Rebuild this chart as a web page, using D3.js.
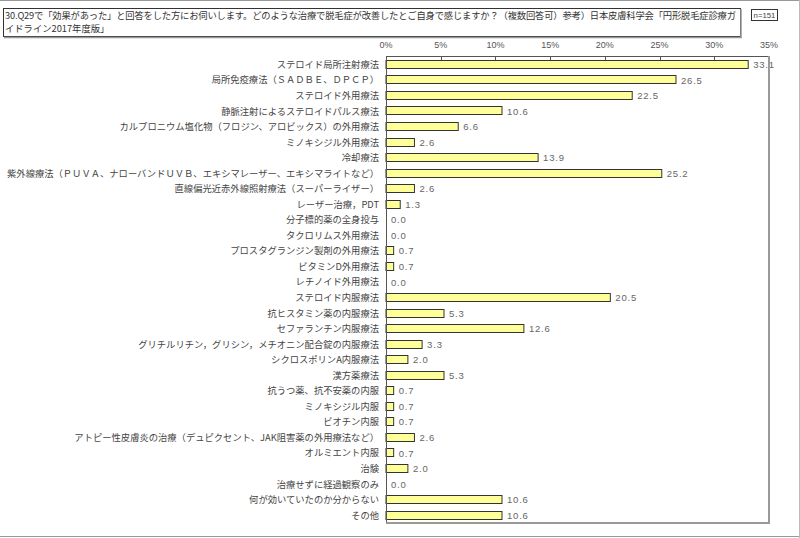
<!DOCTYPE html>
<html><head><meta charset="utf-8">
<script src="https://cdn.jsdelivr.net/npm/d3@7"></script>
<style>body{margin:0;background:#fff}svg{display:block}</style>
</head><body>
<script>
const titleLines = [
  "30.Q29で「効果があった」と回答をした方にお伺いします。どのような治療で脱毛症が改善したとご自身で感じますか？（複数回答可）参考）日本皮膚科学会「円形脱毛症診療ガ",
  "イドライン2017年度版」"
];
const nLabel = "n=151";
const categories = [
  "ステロイド局所注射療法",
  "局所免疫療法（ＳＡＤＢＥ、ＤＰＣＰ）",
  "ステロイド外用療法",
  "静脈注射によるステロイドパルス療法",
  "カルプロニウム塩化物（フロジン、アロビックス）の外用療法",
  "ミノキシジル外用療法",
  "冷却療法",
  "紫外線療法（ＰＵＶＡ、ナローバンドＵＶＢ、エキシマレーザー、エキシマライトなど）",
  "直線偏光近赤外線照射療法（スーパーライザー）",
  "レーザー治療，PDT",
  "分子標的薬の全身投与",
  "タクロリムス外用療法",
  "プロスタグランジン製剤の外用療法",
  "ビタミンD外用療法",
  "レチノイド外用療法",
  "ステロイド内服療法",
  "抗ヒスタミン薬の内服療法",
  "セファランチン内服療法",
  "グリチルリチン，グリシン，メチオニン配合錠の内服療法",
  "シクロスポリンA内服療法",
  "漢方薬療法",
  "抗うつ薬、抗不安薬の内服",
  "ミノキシジル内服",
  "ビオチン内服",
  "アトピー性皮膚炎の治療（デュピクセント、JAK阻害薬の外用療法など）",
  "オルミエント内服",
  "治験",
  "治療せずに経過観察のみ",
  "何が効いていたのか分からない",
  "その他"
];
const values = [33.1,26.5,22.5,10.6,6.6,2.6,13.9,25.2,2.6,1.3,0.0,0.0,0.7,0.7,0.0,20.5,5.3,12.6,3.3,2.0,5.3,0.7,0.7,0.7,2.6,0.7,2.0,0.0,10.6,10.6];
const tickValues = [0,5,10,15,20,25,30,35];

const W = 800, H = 538;
const svg = d3.select("body").append("svg").attr("width", W).attr("height", H);
const jp = "'Noto Sans CJK JP', sans-serif";

// outer border lines
svg.append("line").attr("x1",0).attr("x2",W).attr("y1",0.5).attr("y2",0.5).attr("stroke","#999");
svg.append("line").attr("x1",0).attr("x2",W).attr("y1",536.5).attr("y2",536.5).attr("stroke","#999");
svg.append("line").attr("x1",799.5).attr("x2",799.5).attr("y1",0).attr("y2",H).attr("stroke","#bbb");

// title box
svg.append("rect").attr("x",3.5).attr("y",8.5).attr("width",737).attr("height",28)
  .attr("fill","#fff").attr("stroke","#333").attr("stroke-width",1);
svg.append("line").attr("x1",741).attr("x2",741).attr("y1",9).attr("y2",38).attr("stroke","#999").attr("stroke-width",1.5);
svg.append("line").attr("x1",4).attr("x2",742).attr("y1",37.5).attr("y2",37.5).attr("stroke","#999").attr("stroke-width",1.5);
svg.selectAll("text.title").data(titleLines).join("text").attr("class","title")
  .attr("x",5).attr("y",(d,i)=>18.5+i*13.5)
  .attr("font-family",jp).attr("font-size",9.3).attr("fill","#333")
  .each(function(d,i){ if(i===0) d3.select(this).attr("textLength",731).attr("lengthAdjust","spacing"); })
  .text(d=>d);

// n box
svg.append("rect").attr("x",751.5).attr("y",9.5).attr("width",26).attr("height",11)
  .attr("fill","#fff").attr("stroke","#333");
svg.append("text").attr("x",764.5).attr("y",18).attr("text-anchor","middle")
  .attr("font-family","'Liberation Sans', sans-serif").attr("font-size",7.8).attr("fill","#444").text(nLabel);

// scales
const x = d3.scaleLinear().domain([0,35]).range([386,769]);
const y = d3.scaleBand().domain(categories).range([56.7,523]).paddingInner(0.4).paddingOuter(0.2);

// tick labels
svg.selectAll("text.tick").data(tickValues).join("text").attr("class","tick")
  .attr("x",d=>x(d)).attr("y",48).attr("text-anchor","middle")
  .attr("font-family","'Liberation Sans', sans-serif").attr("font-size",9).attr("fill","#555")
  .text(d=>d+"%");

// bars
svg.selectAll("rect.bar").data(values.map((v,i)=>({v,c:categories[i]}))).join("rect").attr("class","bar")
  .filter(d=>d.v>0)
  .attr("x",x(0)).attr("y",d=>Math.round(y(d.c))+0.5)
  .attr("width",d=>x(d.v)-x(0)).attr("height",8)
  .attr("fill","#ffff99").attr("stroke","#333").attr("stroke-width",1);

// value labels
svg.selectAll("text.val").data(values.map((v,i)=>({v,c:categories[i]}))).join("text").attr("class","val")
  .attr("x",d=>x(d.v)+5).attr("y",d=>y(d.c)+y.bandwidth()/2+3.5)
  .attr("font-family","'Liberation Sans', sans-serif").attr("font-size",9.5).attr("fill","#666")
  .attr("letter-spacing",0.8)
  .text(d=>d.v.toFixed(1));

// category labels
svg.selectAll("text.cat").data(categories).join("text").attr("class","cat")
  .attr("x",379).attr("y",d=>y(d)+y.bandwidth()/2+3.4).attr("text-anchor","end")
  .attr("font-family",jp).attr("font-size",9.3).attr("fill","#444")
  .text(d=>d);

// plot frame
svg.append("line").attr("x1",386).attr("x2",769).attr("y1",56.5).attr("y2",56.5).attr("stroke","#555");
svg.append("line").attr("x1",386.5).attr("x2",386.5).attr("y1",56).attr("y2",523).attr("stroke","#555");
svg.append("line").attr("x1",769).attr("x2",769).attr("y1",56).attr("y2",524).attr("stroke","#999").attr("stroke-width",2);
svg.append("line").attr("x1",386).attr("x2",770).attr("y1",523).attr("y2",523).attr("stroke","#999").attr("stroke-width",2);
svg.selectAll("line.tk").data(tickValues.slice(1,-1)).join("line").attr("class","tk")
  .attr("x1",d=>Math.round(x(d))+0.5).attr("x2",d=>Math.round(x(d))+0.5)
  .attr("y1",56).attr("y2",60).attr("stroke","#555");
</script>
</body></html>
